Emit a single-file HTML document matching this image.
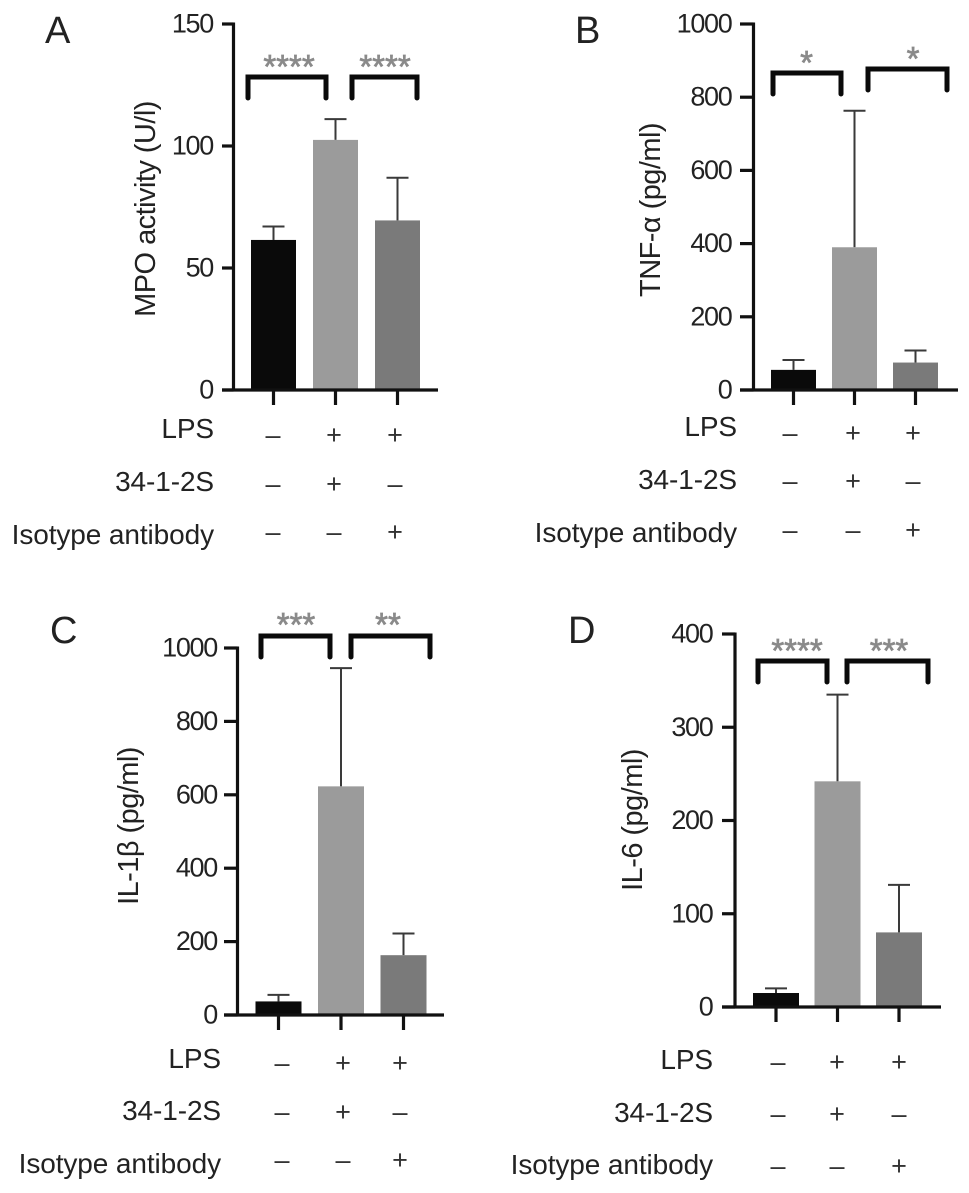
<!DOCTYPE html>
<html>
<head>
<meta charset="utf-8">
<title>Cytokine bar charts</title>
<style>
html,body{margin:0;padding:0;background:#fff;}
svg{display:block;font-family:"Liberation Sans",Arial,sans-serif;}
</style>
</head>
<body>
<svg id="figure" width="969" height="1193" viewBox="0 0 969 1193" xmlns="http://www.w3.org/2000/svg"></svg>
<script>
// ---- data ----
const groups = ['control', 'lps-34-1-2s', 'lps-isotype'];
const rowLabels = ['LPS', '34-1-2S', 'Isotype antibody'];
const rowSigns = [['–', '+', '+'], ['–', '+', '–'], ['–', '–', '+']];
const barColors = ['#0a0a0a', '#9b9b9b', '#7a7a7a'];

const mpoValues = [61.5, 102.5, 69.5];
const mpoErrorTops = [67, 111, 87];
const mpoTicks = [0, 50, 100, 150];
const mpoStars = ['****', '****'];

const tnfValues = [55, 390, 75];
const tnfErrorTops = [82, 763, 108];
const tnfTicks = [0, 200, 400, 600, 800, 1000];
const tnfStars = ['*', '*'];

const il1Values = [37, 623, 163];
const il1ErrorTops = [55, 945, 222];
const il1Ticks = [0, 200, 400, 600, 800, 1000];
const il1Stars = ['***', '**'];

const il6Values = [15, 242, 80];
const il6ErrorTops = [20, 335, 131];
const il6Ticks = [0, 100, 200, 300, 400];
const il6Stars = ['****', '***'];

// ---- layout ----
const panels = [
  {id:'a', letter:'A', lx:45, ly:43, title:'MPO activity (U/l)', tx:155, ty:209,
   values:mpoValues, tops:mpoErrorTops, ticks:mpoTicks, stars:mpoStars,
   axisX:233.5, axisL:222, axisR:438, yTop:24, yZero:390, firstBar:251, barW:45, barStep:62, tickRight:213,
   rowRight:214, rowY:[438,491,544], signX:[273,334,395], signY:[435,484,532],
   brackets:[{x1:248,x2:326,top:77,bot:98,sx:289,sy:63},{x1:352,x2:417,top:77,bot:98,sx:385,sy:63}]},
  {id:'b', letter:'B', lx:575, ly:43, title:'TNF-α (pg/ml)', tx:660, ty:210,
   values:tnfValues, tops:tnfErrorTops, ticks:tnfTicks, stars:tnfStars,
   axisX:753.5, axisL:740, axisR:958, yTop:24, yZero:390, firstBar:771, barW:45, barStep:61, tickRight:731.5,
   rowRight:737, rowY:[436,489,542], signX:[790,853,913], signY:[433,481,530],
   brackets:[{x1:773,x2:841,top:73,bot:94,sx:806.5,sy:59},{x1:868,x2:947,top:69,bot:90,sx:913,sy:55}]},
  {id:'c', letter:'C', lx:50, ly:643, title:'IL-1β (pg/ml)', tx:138, ty:826,
   values:il1Values, tops:il1ErrorTops, ticks:il1Ticks, stars:il1Stars,
   axisX:237.5, axisL:224, axisR:444, yTop:648, yZero:1015, firstBar:255.5, barW:46, barStep:62.5, tickRight:217,
   rowRight:221, rowY:[1068,1120,1173], signX:[282,343,400], signY:[1063,1112,1160],
   brackets:[{x1:261,x2:330,top:636,bot:657,sx:296,sy:621},{x1:351,x2:430,top:636,bot:657,sx:388,sy:621}]},
  {id:'d', letter:'D', lx:568, ly:643, title:'IL-6 (pg/ml)', tx:642, ty:820,
   values:il6Values, tops:il6ErrorTops, ticks:il6Ticks, stars:il6Stars,
   axisX:735, axisL:722, axisR:941, yTop:634, yZero:1007, firstBar:753, barW:46, barStep:61.5, tickRight:712.5,
   rowRight:713, rowY:[1069,1122,1174], signX:[778,837,899], signY:[1062,1114,1166],
   brackets:[{x1:758,x2:827,top:661,bot:682,sx:797,sy:647},{x1:847,x2:928,top:661,bot:682,sx:889,sy:647}]}
];

const CAP_W = 22;
const NS = 'http://www.w3.org/2000/svg';
const root = document.getElementById('figure');

function make(parent, tag, attrs, name, text) {
  const el = document.createElementNS(NS, tag);
  for (const k in attrs) el.setAttribute(k, attrs[k]);
  
  
  if (text !== undefined) el.textContent = text;
  parent.appendChild(el);
  return el;
}

function drawPanel(p) {
  const g = make(root, 'g', {}, 'panel-' + p.id);
  const maxV = p.ticks[p.ticks.length - 1];
  const yScale = v => p.yZero - (v / maxV) * (p.yZero - p.yTop);
  const barX = i => p.firstBar + i * p.barStep;
  const barC = i => barX(i) + p.barW / 2;

  make(g, 'text', {x:p.lx, y:p.ly, 'font-size':38, fill:'#222'}, 'panel-letter-' + p.id, p.letter);

  // error bars then bars
  groups.forEach((grp, i) => {
    make(g, 'line', {x1:barC(i), x2:barC(i), y1:yScale(p.values[i]), y2:yScale(p.tops[i]), stroke:'#3a3a3a', 'stroke-width':2}, 'error-bar-' + grp);
    make(g, 'line', {x1:barC(i) - CAP_W / 2, x2:barC(i) + CAP_W / 2, y1:yScale(p.tops[i]), y2:yScale(p.tops[i]), stroke:'#3a3a3a', 'stroke-width':2}, 'error-cap-' + grp);
    make(g, 'rect', {x:barX(i), y:yScale(p.values[i]), width:p.barW, height:p.yZero - yScale(p.values[i]), fill:barColors[i]}, 'bar-' + grp);
  });

  // axes
  make(g, 'line', {x1:p.axisX, x2:p.axisX, y1:p.yTop - 1.5, y2:p.yZero + 1.5, stroke:'#111', 'stroke-width':3.2}, 'y-axis');
  make(g, 'line', {x1:p.axisL, x2:p.axisR, y1:p.yZero, y2:p.yZero, stroke:'#111', 'stroke-width':3.2}, 'x-axis');
  p.ticks.forEach(t => {
    const y = yScale(t);
    make(g, 'line', {x1:p.axisL, x2:p.axisX, y1:y, y2:y, stroke:'#111', 'stroke-width':3.2}, 'y-tick-' + t);
    make(g, 'text', {x:p.tickRight, y:y + 8.5, 'font-size':27, 'letter-spacing':-1.3, 'text-anchor':'end', fill:'#222'}, 'y-tick-label-' + t, t);
  });
  groups.forEach((grp, i) => {
    make(g, 'line', {x1:barC(i), x2:barC(i), y1:p.yZero, y2:p.yZero + 15, stroke:'#111', 'stroke-width':3.2}, 'x-tick-' + grp);
  });

  make(g, 'text', {x:p.tx, y:p.ty, 'font-size':29, 'letter-spacing':-0.55, 'text-anchor':'middle', fill:'#222', transform:'rotate(-90 ' + p.tx + ' ' + p.ty + ')'}, 'y-axis-title', p.title);

  // condition rows
  rowLabels.forEach((lab, r) => {
    make(g, 'text', {x:p.rowRight, y:p.rowY[r], 'font-size':28, 'letter-spacing':-0.1, 'text-anchor':'end', fill:'#222'}, 'row-label-' + r, lab);
    rowSigns[r].forEach((s, i) => {
      make(g, 'text', {x:p.signX[i], y:p.signY[r] + 9, 'font-size':27, 'text-anchor':'middle', fill:'#333'}, 'row-' + r + '-sign-' + i, s);
    });
  });

  // significance brackets
  p.brackets.forEach((b, i) => {
    make(g, 'path', {d:'M' + b.x1 + ' ' + b.bot + 'V' + b.top + 'H' + b.x2 + 'V' + b.bot, fill:'none', stroke:'#0a0a0a', 'stroke-width':5, 'stroke-linecap':'round'}, 'significance-bracket-' + i);
    make(g, 'text', {x:b.sx, y:b.sy + 15, 'font-size':33, 'text-anchor':'middle', fill:'#8a8a8a', stroke:'#8a8a8a', 'stroke-width':0.7}, 'significance-stars-' + i, p.stars[i]);
  });
}

panels.forEach(drawPanel);
</script>
</body>
</html>
